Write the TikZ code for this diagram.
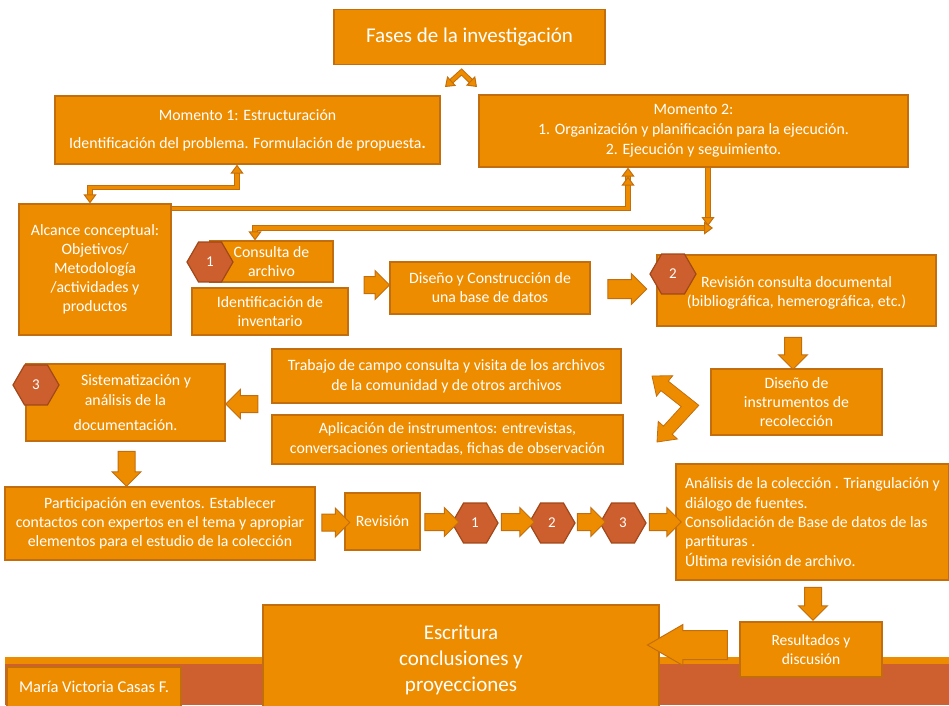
\documentclass[tikz,border=0pt]{standalone}
\usepackage{fontspec}
\setmainfont{Carlito}
\usetikzlibrary{arrows.meta,positioning,shapes.arrows,shapes.geometric}

\definecolor{boxorange}{RGB}{238,140,0}
\definecolor{edgeorange}{RGB}{194,110,14}
\definecolor{hexred}{RGB}{205,94,45}
\definecolor{hexedge}{RGB}{160,72,26}
\definecolor{bandred}{RGB}{205,96,46}

\begin{document}
\begin{tikzpicture}[x=1pt, y=-1pt,
    phase/.style={draw=edgeorange, fill=boxorange, line width=1.2pt, text=white,
        align=center, inner sep=2pt, font=\fontsize{15.8}{19}\selectfont},
    stepnum/.style={regular polygon, regular polygon sides=6, minimum size=46pt,
        draw=hexedge, fill=hexred, line width=1.2pt, text=white, inner sep=0pt,
        font=\fontsize{15}{16}\selectfont},
    flow/.style={single arrow, draw=edgeorange, fill=boxorange, line width=1pt,
        inner sep=8pt, single arrow head extend=6pt, minimum height=#1},
    flow/.default=30pt,
    pipe/.style={draw=edgeorange, line width=1pt, double=boxorange, double distance=3.4pt,
        >={Triangle[length=9pt,width=13pt,fill=boxorange]}}]

    \useasboundingbox (0,0) rectangle (949,705);

    % Bottom band
    \fill[boxorange] (5,657) rectangle (949,664);
    \fill[bandred] (5,664) rectangle (949,705);

    % Define phases
    \node[phase, minimum width=271pt, minimum height=55pt, font=\fontsize{21}{24}\selectfont]
        (F0) at (469.5,37) {Fases de la investigación};
    \node[phase, minimum width=385pt, minimum height=68pt] (M1) at (247.5,130)
        {Momento 1: Estructuración\\[9pt]Identificación del problema. Formulación de propuesta\textbf{.}};
    \node[phase, minimum width=429pt, minimum height=72pt, font=\fontsize{15.8}{20}\selectfont] (M2) at (693.5,131)
        {Momento 2:\\1. Organización y planificación para la ejecución.\\2. Ejecución y seguimiento.};
    \node[phase, minimum width=152pt, minimum height=131pt] (alc) at (95,269.5)
        {Alcance conceptual:\\Objetivos/\\Metodología\\/actividades y\\productos};
    \node[phase, minimum width=123pt, minimum height=41pt] (cons) at (271.5,261.5)
        {Consulta de\\archivo};
    \node[phase, minimum width=156pt, minimum height=47pt] (inv) at (270,311.5)
        {Identificación de\\inventario};
    \node[phase, minimum width=200pt, minimum height=52pt] (base) at (490,288)
        {Diseño y Construcción de\\una base de datos};
    \node[phase, minimum width=279pt, minimum height=71pt] (doc) at (796.5,290.5)
        {\\[-4pt]Revisión consulta documental\\(bibliográfica, hemerográfica, etc.)};
    \node[phase, minimum width=171pt, minimum height=66pt] (instr) at (796.5,402)
        {Diseño de\\instrumentos de\\recolección};
    \node[phase, minimum width=349pt, minimum height=54pt, font=\fontsize{15.8}{20}\selectfont] (campo) at (446.5,376)
        {Trabajo de campo consulta y visita de los archivos\\de la comunidad y de otros archivos};
    \node[phase, minimum width=351pt, minimum height=49pt, font=\fontsize{15.8}{20}\selectfont] (aplic) at (447.5,439.5)
        {Aplicación de instrumentos: entrevistas,\\conversaciones orientadas, fichas de observación};
    \node[phase, minimum width=199pt, minimum height=77pt, font=\fontsize{15.8}{20}\selectfont] (sist) at (125.5,402.5)
        {\hspace*{21pt}Sistematización y\\análisis de la\\[5pt]documentación.};
    \node[phase, minimum width=310pt, minimum height=73pt] (part) at (160,523.5)
        {Participación en eventos. Establecer\\contactos con expertos en el tema y apropiar\\elementos para el estudio de la colección};
    \node[phase, minimum width=75pt, minimum height=57pt] (rev) at (382.5,521.5) {Revisión};
    \node[phase, minimum width=273pt, minimum height=116pt, align=left, font=\fontsize{15.8}{19.3}\selectfont]
        (anal) at (812.5,522)
        {Análisis de la colección . Triangulación y\\diálogo de fuentes.\\Consolidación de Base de datos de las\\partituras .\\Última revisión de archivo.};
    \node[phase, minimum width=142pt, minimum height=55pt, font=\fontsize{15.5}{19}\selectfont]
        (res) at (811,649.5) {Resultados y\\discusión};
    \node[phase, minimum width=396pt, minimum height=110pt, font=\fontsize{21}{26}\selectfont]
        (escr) at (461,660) {Escritura\\conclusiones y\\proyecciones};
    \node[phase, minimum width=174pt, minimum height=40pt, font=\fontsize{16.5}{19}\selectfont]
        (autor) at (94,687) {María Victoria Casas F.};

    % Numbered steps
    \node[stepnum] (N1) at (210,262) {1};
    \node[stepnum] (N2) at (673,274) {2};
    \node[stepnum] (N3) at (36,385) {3};
    \node[stepnum] (R1) at (475,523) {1};
    \node[stepnum] (R2) at (552,523) {2};
    \node[stepnum] (R3) at (623,523) {3};

    % Block arrows
    \node[flow=25pt] (a1) at (372.5,285) {};
    \node[flow=39pt, inner sep=9pt] (a2) at (622.5,289) {};
    \node[flow=32pt, shape border rotate=270] (a3) at (793,349) {};
    \node[flow=32pt, shape border rotate=180] (a4) at (246,404) {};
    \node[flow=35pt, shape border rotate=270] (a5) at (126.5,464.5) {};
    \node[flow=28pt] (a6) at (331.5,522.5) {};
    \node[flow=34pt] (a7) at (437.5,522) {};
    \node[flow=33pt] (a8) at (513.5,522) {};
    \node[flow=28pt] (a9) at (587,522) {};
    \node[flow=32pt] (a10) at (661,522) {};
    \node[flow=33pt, shape border rotate=270] (a11) at (813,599.5) {};
    \node[flow=80pt, shape border rotate=180, inner sep=14pt, single arrow tip angle=60]
        (a12) at (700,645) {};

    % Chevron double arrow
    \filldraw[fill=boxorange, draw=edgeorange, line width=0.8pt]
        (652,376) -- (656.5,396.1) -- (660.9,390.6) -- (681.2,406.6) -- (663.4,426.1)
        -- (658.2,421.4) -- (657,442) -- (677.4,439.0) -- (672.2,434.3) -- (698.8,405.3)
        -- (668.3,381.2) -- (672.7,375.7) -- cycle;

    % Draw connectors
    \coordinate (tl) at (445,87);
    \coordinate (tt) at (461.5,72);
    \coordinate (tr) at (477,87);
    \draw[pipe, <->] (tl) -- (tt) -- (tr);
    \draw[pipe, <->] ([xshift=-5pt]alc.north) -- ++(0,-16) -| ([xshift=-10.5pt]M1.south);
    \draw[pipe, -{Triangle[length=9pt,width=13pt,fill=boxorange] Triangle[length=9pt,width=13pt,fill=boxorange]}]
        ([yshift=-5pt]alc.north east) -| ([xshift=-65.5pt]M2.south);
    \coordinate (drop) at (708,226);
    \coordinate (join) at (713,228);
    \draw[pipe, ->] ([xshift=14.5pt]M2.south) -- (drop);
    \draw[pipe, <->] (join) -| ([xshift=-16.5pt]cons.north);

\end{tikzpicture}
\end{document}
